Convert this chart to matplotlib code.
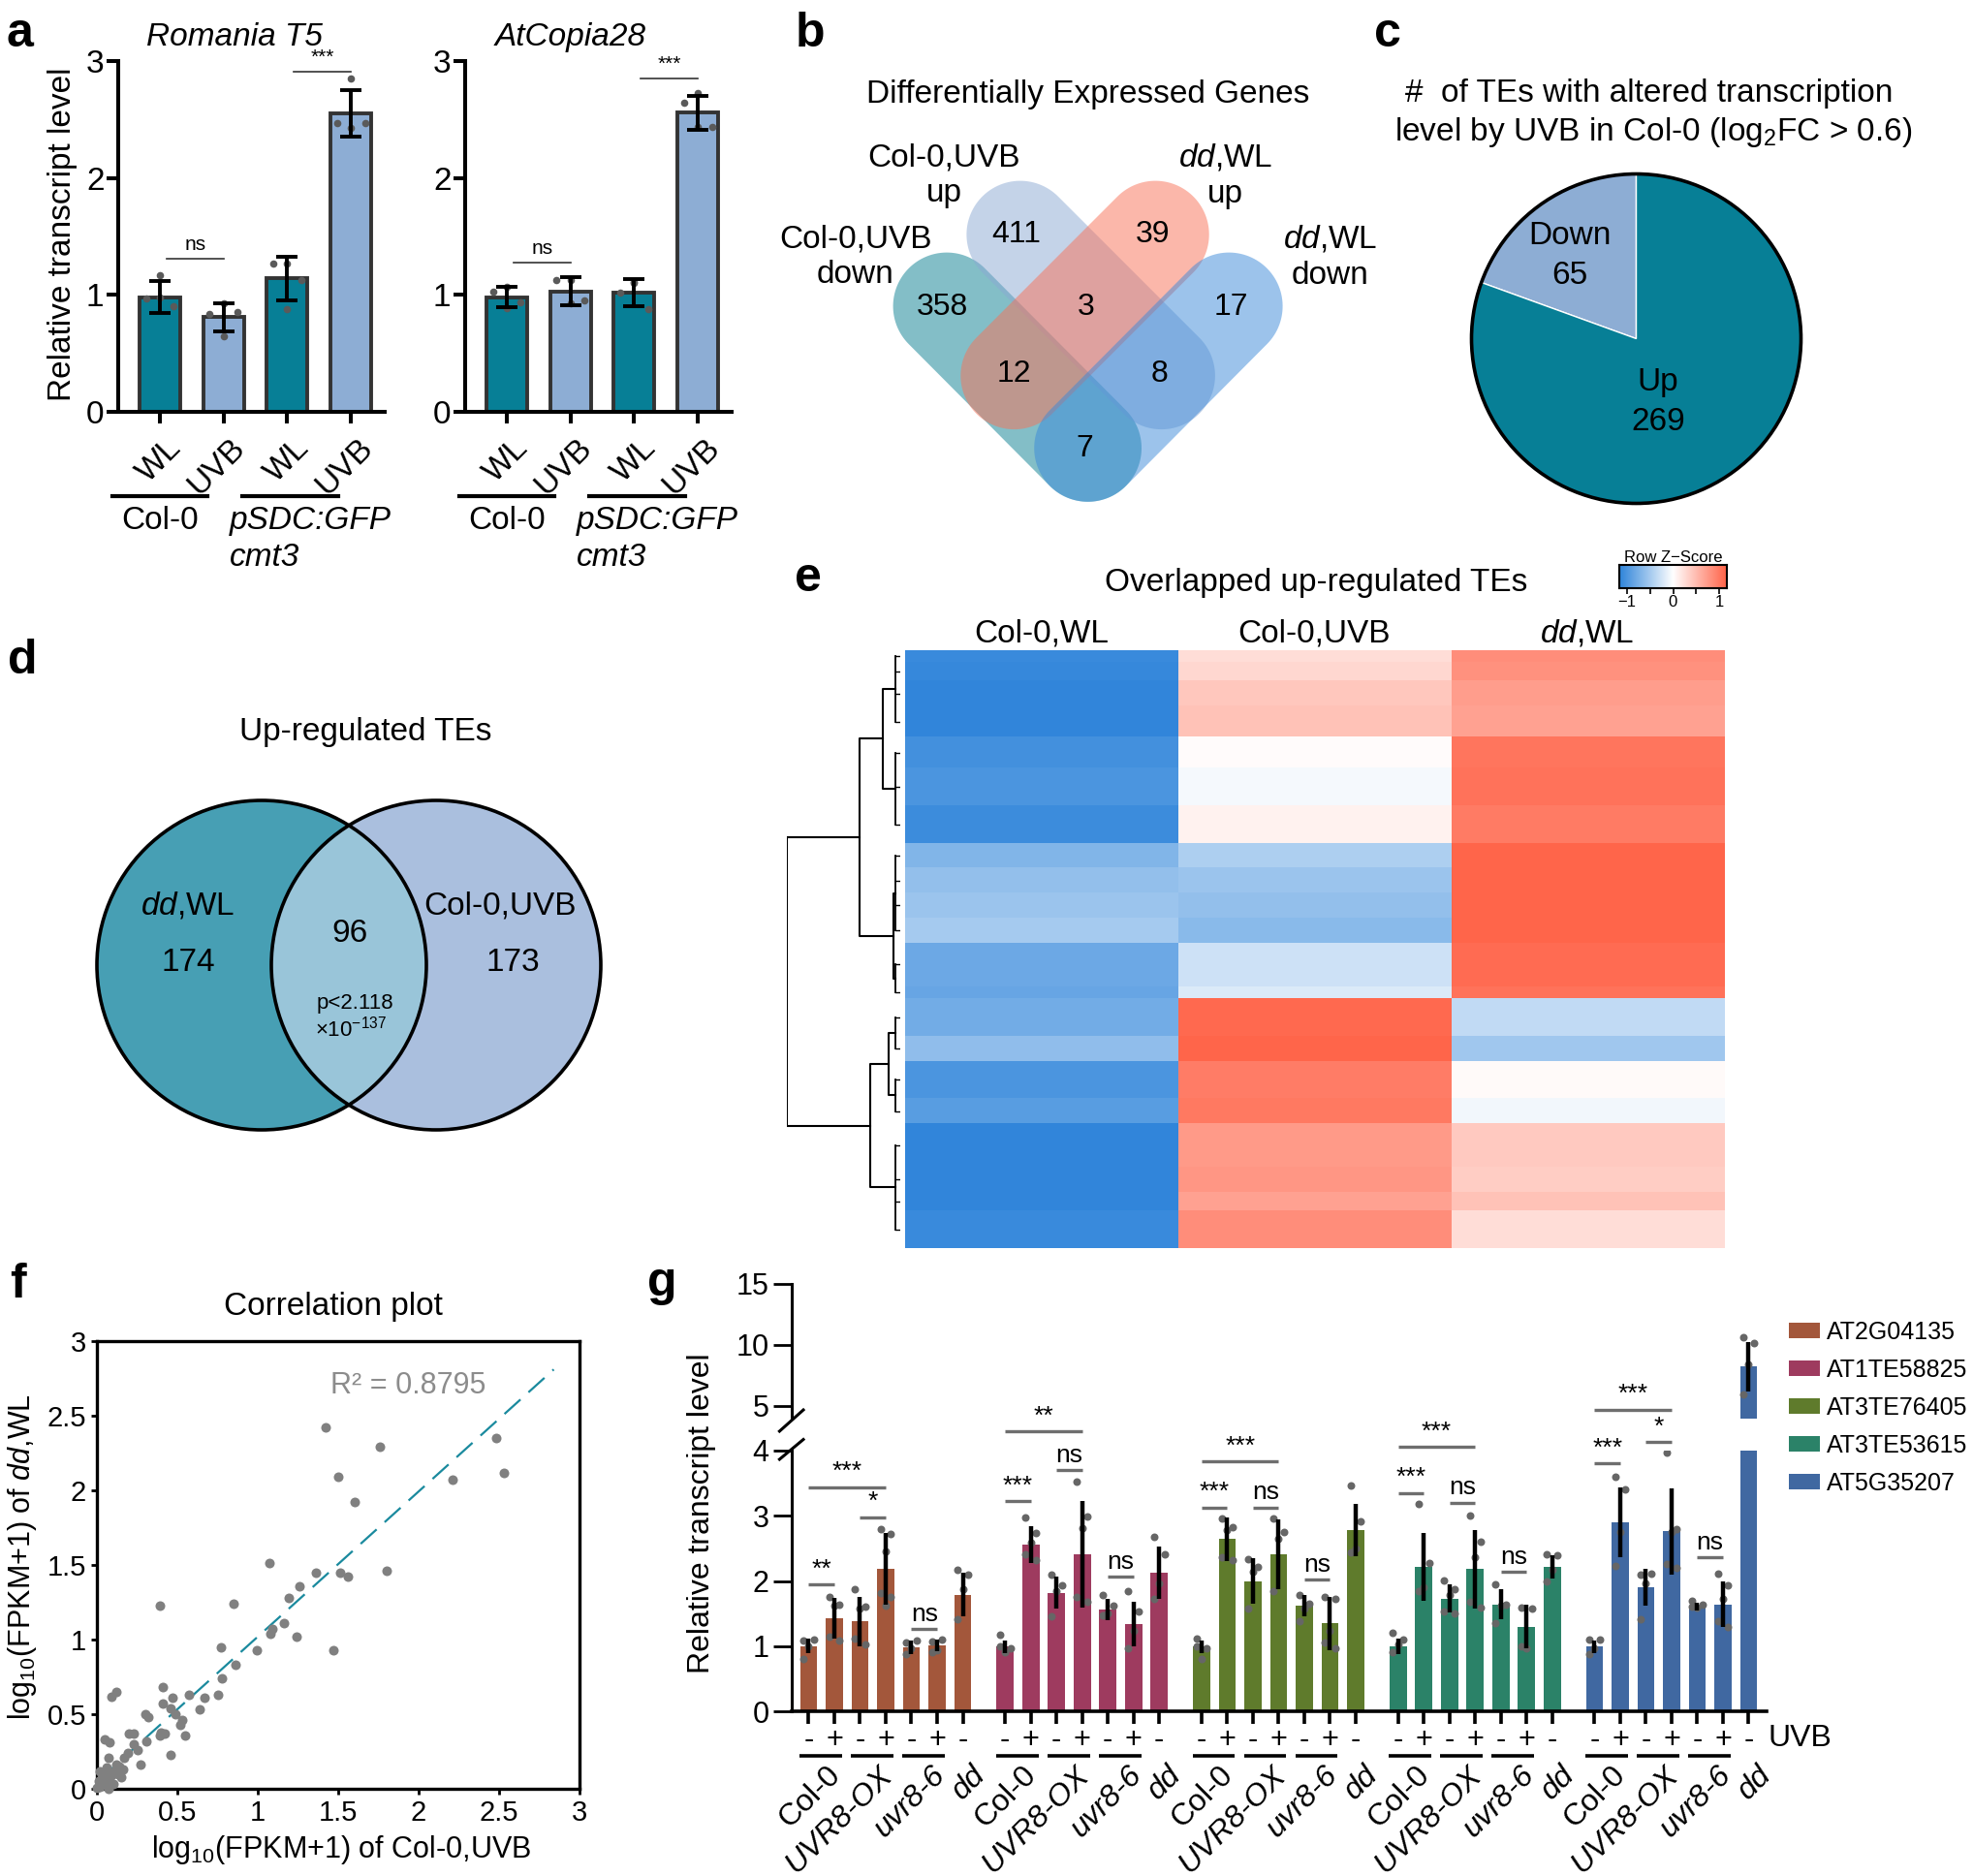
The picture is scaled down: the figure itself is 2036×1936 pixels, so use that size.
import numpy as np
import matplotlib
matplotlib.use('Agg')
import matplotlib.pyplot as plt
from matplotlib.patches import Polygon, Circle
from matplotlib.colors import LinearSegmentedColormap

plt.rcParams['font.family'] = ['Liberation Sans', 'DejaVu Sans']
plt.rcParams['mathtext.fontset'] = 'custom'
plt.rcParams['mathtext.rm'] = 'Liberation Sans'
plt.rcParams['mathtext.it'] = 'Liberation Sans:italic'
plt.rcParams['mathtext.bf'] = 'Liberation Sans:bold'

W, H = 2036, 1936

# ---------------- data ----------------
# a
a_labels = ['WL', 'UVB', 'WL', 'UVB']
rom_mean = [0.98, 0.81, 1.14, 2.55]
rom_sd = [0.135, 0.12, 0.19, 0.20]
rom_dots = [[1.17, 0.97, 0.90, 0.98], [0.93, 0.84, 0.85, 0.65],
            [1.27, 1.27, 1.13, 0.88], [2.85, 2.47, 2.47, 2.43]]
rom_sig = [(0, 1, 1.31, 'ns'), (2, 3, 2.91, '***')]
cop_mean = [0.98, 1.03, 1.02, 2.56]
cop_sd = [0.085, 0.12, 0.115, 0.145]
cop_dots = [[1.07, 1.03, 0.94, 0.89], [1.13, 1.13, 0.95, 0.93],
            [1.11, 1.02, 0.88, 1.10], [2.73, 2.64, 2.44, 2.44]]
cop_sig = [(0, 1, 1.28, 'ns'), (2, 3, 2.85, '***')]

# b  (4-set venn)
venn4_sets = ['Col-0,UVB\ndown', 'Col-0,UVB\nup', '$\\mathit{dd}$,WL\nup', '$\\mathit{dd}$,WL\ndown']
venn4_counts = [358, 411, 3, 39, 17, 12, 8, 7]

# c
pie_labels = ['Down', 'Up']
pie_counts = [65, 269]

# d
venn2_counts = [174, 96, 173]

# e  heatmap row z-scores (row blocks, top to bottom)
hm_cols = ['Col-0,WL', 'Col-0,UVB', '$\\mathit{dd}$,WL']
hm_block_rows = [2, 3, 4, 5, 5, 6, 6, 4, 4, 4, 4, 7, 2, 6, 4, 6, 4, 7, 4, 3, 6]
hm_col0_wl = [-1.10, -1.12, -1.15, -1.15, -1.05, -1.00, -1.08, -0.70, -0.60, -0.55, -0.50,
              -0.82, -0.85, -0.78, -0.62, -1.00, -0.93, -1.15, -1.15, -1.15, -1.10]
hm_col0_uvb = [0.25, 0.30, 0.42, 0.45, 0.02, -0.05, 0.10, -0.45, -0.55, -0.60, -0.65,
               -0.28, -0.20, 1.12, 1.15, 0.97, 1.00, 0.75, 0.78, 0.70, 0.85]
hm_dd_wl = [0.85, 0.82, 0.73, 0.70, 1.03, 1.05, 0.98, 1.15, 1.15, 1.15, 1.15,
            1.10, 1.05, -0.34, -0.53, 0.03, -0.07, 0.40, 0.37, 0.45, 0.25]
dendro_blocks = [14, 17, 16, 9, 10, 10, 20]
dendro_links = [(0, 1, 0.15), (2, 3, 0.06), (7, 8, 0.358), (4, 5, 0.103), (10, 6, 0.269), (9, 11, 1.0)]

# f
f_x = [1.42, 1.76, 2.48, 1.50, 2.21, 2.53, 1.60, 1.07, 1.36, 1.51, 1.56, 1.80, 1.26, 1.19, 0.39,
       0.85, 1.16, 1.09, 1.08, 1.24, 0.77, 0.995, 1.47, 0.86, 0.78, 0.75, 0.67, 0.57, 0.64, 0.41,
       0.47, 0.41, 0.46, 0.09, 0.12, 0.49, 0.53, 0.52, 0.30, 0.32, 0.55, 0.40, 0.42, 0.39, 0.46,
       0.20, 0.23, 0.23, 0.25, 0.31, 0.27, 0.195, 0.17, 0.05, 0.08, 0.07, 0.14, 0.15, 0.12, 0.02,
       0.05, 0.09, 0.01, 0.04, 0.0, 0.06, 0.10, 0.02, 0.07, 0.11, 0.03, 0.08, 0.13, 0.16, 0.06]
f_y = [2.42, 2.29, 2.35, 2.09, 2.07, 2.12, 1.92, 1.51, 1.45, 1.45, 1.42, 1.46, 1.36, 1.28, 1.23,
       1.24, 1.11, 1.07, 1.04, 1.02, 0.95, 0.93, 0.93, 0.83, 0.74, 0.63, 0.61, 0.63, 0.53, 0.68,
       0.61, 0.57, 0.54, 0.62, 0.65, 0.50, 0.46, 0.43, 0.50, 0.48, 0.36, 0.375, 0.37, 0.36, 0.23,
       0.37, 0.37, 0.30, 0.26, 0.32, 0.16, 0.24, 0.21, 0.33, 0.31, 0.21, 0.15, 0.08, 0.16, 0.12,
       0.11, 0.09, 0.05, 0.03, 0.005, 0.05, 0.03, 0.01, 0.0, 0.12, 0.07, 0.04, 0.10, 0.13, 0.14]
fit_x = [0.0, 2.84]
fit_y = [0.046, 2.81]
r2_text = 'R² = 0.8795'

# g
g_genes = ['AT2G04135', 'AT1TE58825', 'AT3TE76405', 'AT3TE53615', 'AT5G35207']
g_colors = ['#A3573B', '#9E3B5F', '#5F7B2C', '#2B8268', '#4068A1']
g_uvb = ['-', '+', '-', '+', '-', '+', '-']
g_lines = ['Col-0', 'UVR8-OX', 'uvr8-6', 'dd']
g_mean = [[1.0, 1.43, 1.38, 2.19, 0.98, 1.01, 1.79],
          [0.99, 2.56, 1.82, 2.41, 1.56, 1.34, 2.13],
          [0.99, 2.64, 2.00, 2.41, 1.62, 1.35, 2.78],
          [0.99, 2.21, 1.73, 2.18, 1.64, 1.30, 2.21],
          [0.99, 2.90, 1.90, 2.76, 1.61, 1.64, 8.20]]
g_sd = [[0.11, 0.31, 0.38, 0.55, 0.10, 0.09, 0.33],
        [0.10, 0.28, 0.25, 0.82, 0.16, 0.34, 0.40],
        [0.10, 0.33, 0.35, 0.53, 0.16, 0.41, 0.40],
        [0.12, 0.52, 0.22, 0.60, 0.23, 0.33, 0.18],
        [0.10, 0.53, 0.28, 0.66, 0.06, 0.35, 2.00]]
g_dots = [
    [[1.08, 1.10, 1.0, 0.81], [1.75, 1.64, 1.62, 1.14, 1.08], [1.88, 1.61, 1.58, 1.11, 1.02],
     [2.79, 2.72, 2.45, 1.82, 1.75, 1.62], [1.05, 1.08, 0.96, 0.88], [1.07, 1.10, 0.93, 0.90],
     [2.17, 2.10, 1.88, 1.41]],
    [[1.17, 0.96, 0.90, 0.99], [2.98, 2.73, 2.59, 2.41, 2.32], [2.09, 1.93, 1.85, 1.46],
     [3.52, 2.99, 2.81, 1.75, 1.68], [1.79, 1.62, 1.50, 1.47], [1.85, 1.53, 1.23, 0.96],
     [2.68, 2.41, 1.96, 1.73]],
    [[1.11, 0.97, 0.81, 1.0], [2.96, 2.82, 2.78, 2.37, 2.32], [2.33, 2.21, 2.14, 1.58],
     [2.96, 2.75, 2.64, 1.84], [1.79, 1.65, 1.58, 1.38], [1.76, 1.73, 1.23, 1.05, 0.96],
     [3.47, 2.92, 2.50, 2.44]],
    [[1.20, 1.10, 1.02, 0.90], [3.18, 2.27, 1.90, 1.84], [2.01, 1.87, 1.79, 1.53, 1.50],
     [3.00, 2.60, 2.37, 1.68, 1.59], [1.95, 1.64, 1.62, 1.35], [1.59, 1.57, 0.96, 1.00],
     [2.41, 2.39, 2.17, 1.99]],
    [[1.10, 1.10, 0.96, 0.88], [3.60, 3.41, 2.75, 2.23], [2.09, 2.11, 1.96, 1.42],
     [3.97, 2.80, 2.75, 2.26, 2.20], [1.70, 1.64, 1.59, 1.60], [2.11, 1.93, 1.73, 1.38, 1.29],
     [10.64, 10.16, 8.39, 5.97]]]
g_sig = [[(0, 1, 1.95, '**'), (2, 3, 2.98, '*'), (0, 3, 3.44, '***'), (4, 5, 1.26, 'ns')],
         [(0, 1, 3.23, '***'), (2, 3, 3.70, 'ns'), (0, 3, 4.30, '**'), (4, 5, 2.06, 'ns')],
         [(0, 1, 3.13, '***'), (2, 3, 3.13, 'ns'), (0, 3, 3.84, '***'), (4, 5, 2.02, 'ns')],
         [(0, 1, 3.35, '***'), (2, 3, 3.20, 'ns'), (0, 3, 4.06, '***'), (4, 5, 2.14, 'ns')],
         [(0, 1, 3.80, '***'), (2, 3, 4.13, '*'), (0, 3, 4.63, '***'), (4, 5, 2.36, 'ns')]]

teal = '#077F96'
lblue = '#8DADD4'


def box(x0, y0, x1, y1):
    return [x0 / W, 1 - y1 / H, (x1 - x0) / W, (y1 - y0) / H]


fig = plt.figure(figsize=(W / 100, H / 100), dpi=100)
ov = fig.add_axes([0, 0, 1, 1])
ov.set_xlim(0, W)
ov.set_ylim(H, 0)
ov.axis('off')

# panel letters
for lab, x, y in [('a', 7, 48), ('b', 821, 48), ('c', 1418, 48), ('d', 8, 695),
                  ('e', 820, 610), ('f', 10, 1339), ('g', 668, 1337)]:
    ov.text(x, y, lab, fontsize=36, fontweight='bold', ha='left', va='baseline')

# ---------------- a ----------------
a_jit = [0.0, -0.22, 0.22, 0.0]
a_cols = [teal, lblue, teal, lblue]
for (x0, x1, tx, title, means, sds, dots, sigs) in [
        (122, 397, 242, 'Romania T5', rom_mean, rom_sd, rom_dots, rom_sig),
        (480, 755, 589, 'AtCopia28', cop_mean, cop_sd, cop_dots, cop_sig)]:
    ax = fig.add_axes(box(x0, 63, x1, 425))
    ax.patch.set_visible(False)
    x = np.arange(len(means))
    ax.bar(x, means, 0.64, color=a_cols, edgecolor='#333333', linewidth=2.8, zorder=2)
    for i, d in enumerate(dots):
        ax.scatter(i + np.array(a_jit[:len(d)]), d, s=30, color='#5a5a5a', lw=0, zorder=3)
    ax.errorbar(x, means, yerr=sds, fmt='none', ecolor='black', elinewidth=2.8,
                capsize=8, capthick=2.8, zorder=4)
    for i, j, y, t in sigs:
        ax.plot([i + 0.1, j], [y, y], color='#333333', lw=1.2)
        ax.text((i + j) / 2 + 0.05, y + 0.04, t, ha='center', va='bottom', fontsize=15)
    ax.set_xlim(-0.655, 3.53)
    ax.set_ylim(0, 3)
    ax.set_yticks([0, 1, 2, 3])
    ax.set_xticks(x)
    ax.set_xticklabels([])
    for s in ['top', 'right']:
        ax.spines[s].set_visible(False)
    for s in ['left', 'bottom']:
        ax.spines[s].set_linewidth(2.9)
    ax.tick_params(width=2.9, length=8.5, labelsize=24, pad=2)
    tr = ax.get_xaxis_transform()
    for i, lab in enumerate(a_labels):
        ax.text(i + 0.1, -0.06, lab, transform=tr, rotation=45, ha='right', va='top',
                rotation_mode='anchor', fontsize=24)
    ax.plot([-0.75, 0.75], [-0.24, -0.24], transform=tr, color='black', lw=3, clip_on=False)
    ax.plot([1.3, 2.8], [-0.24, -0.24], transform=tr, color='black', lw=3, clip_on=False)
    ax.text(0.0, -0.31, 'Col-0', transform=tr, ha='center', va='center', fontsize=24)
    ax.text(1.1, -0.31, 'pSDC:GFP', transform=tr, ha='left', va='center', fontsize=24,
            fontstyle='italic')
    ax.text(1.1, -0.415, 'cmt3', transform=tr, ha='left', va='center', fontsize=24,
            fontstyle='italic')
    ov.text(tx, 47, title, ha='center', va='baseline', fontsize=24, fontstyle='italic')

ov.text(65, 242, 'Relative transcript level', rotation=90, ha='center', va='center', fontsize=24)

# ---------------- b ----------------


def capsule(c1, c2, r, n=60):
    c1 = np.array(c1, float)
    c2 = np.array(c2, float)
    d = c2 - c1
    ang = np.arctan2(d[1], d[0])
    t1 = np.linspace(ang + np.pi / 2, ang + 3 * np.pi / 2, n)
    t2 = np.linspace(ang - np.pi / 2, ang + np.pi / 2, n)
    p1 = c1 + r * np.c_[np.cos(t1), np.sin(t1)]
    p2 = c2 + r * np.c_[np.cos(t2), np.sin(t2)]
    return np.vstack([p1, p2])


v4_shapes = [((977, 316), (1122.6, 462.4), '#097F91'),
             ((1052.8, 242), (1198.5, 387.7), '#8BA9D3'),
             ((1192.3, 242), (1046.7, 387.7), '#F97157'),
             ((1268.2, 316), (1122.6, 462.4), '#3B89D9')]
for c1, c2, col in v4_shapes:
    ov.add_patch(Polygon(capsule(c1, c2, 55.4), closed=True, facecolor=col, alpha=0.5,
                         edgecolor='none'))
v4_count_pos = [(972.8, 317), (1048.7, 242), (1120.5, 317), (1189.4, 242), (1270, 317),
                (1046.7, 386.5), (1196.4, 386.5), (1119.7, 462.8)]
for (x, y), n in zip(v4_count_pos, venn4_counts):
    ov.text(x, y, str(n), ha='center', va='center', fontsize=23)
v4_set_pos = [(882.6, 265.5), (974, 181), (1264.5, 181), (1372.8, 265.5)]
for (x, y), s in zip(v4_set_pos, venn4_sets):
    ov.text(x, y, s, ha='center', va='center', fontsize=24, linespacing=1.25)
ov.text(1122.6, 106, 'Differentially Expressed Genes', ha='center', va='baseline', fontsize=24)

# ---------------- c ----------------
axc = fig.add_axes(box(1518.5, 179.5, 1858.5, 519.5))
axc.pie(pie_counts, colors=[lblue, teal], startangle=90, counterclock=True, radius=1,
        wedgeprops=dict(edgecolor='white', linewidth=1))
axc.add_patch(Circle((0, 0), 1, fill=False, edgecolor='black', lw=2.6, clip_on=False))
axc.set_xlim(-1, 1)
axc.set_ylim(-1, 1)
axc.text(-0.403, 0.503, '%s\n%d' % (pie_labels[0], pie_counts[0]), ha='center', va='center',
         fontsize=24, linespacing=1.38)
axc.text(0.132, -0.385, '%s\n%d' % (pie_labels[1], pie_counts[1]), ha='center', va='center',
         fontsize=24, linespacing=1.38)
ov.text(1702, 105, '#  of TEs with altered transcription', ha='center', va='baseline', fontsize=24)
ov.text(1706, 145.5, 'level by UVB in Col-0 (log$_2$FC > 0.6)', ha='center', va='baseline',
        fontsize=24)

# ---------------- d ----------------
cl = Circle((270, 996), 170, facecolor='#479FB4', edgecolor='none')
cr = Circle((450, 996), 170, facecolor='#AABFDE', edgecolor='none')
ov.add_patch(cl)
ov.add_patch(cr)
lens = Circle((450, 996), 170, facecolor='#99C5D9', edgecolor='none')
ov.add_patch(lens)
lens.set_clip_path(cl)
ov.add_patch(Circle((270, 996), 170, fill=False, edgecolor='black', lw=2.6))
ov.add_patch(Circle((450, 996), 170, fill=False, edgecolor='black', lw=2.6))
ov.text(377, 764, 'Up-regulated TEs', ha='center', va='baseline', fontsize=24)
ov.text(194, 935, '$\\mathit{dd}$,WL', ha='center', va='center', fontsize=24)
ov.text(194, 993, str(venn2_counts[0]), ha='center', va='center', fontsize=24)
ov.text(361, 964, str(venn2_counts[1]), ha='center', va='center', fontsize=24)
ov.text(516, 935, 'Col-0,UVB', ha='center', va='center', fontsize=24)
ov.text(529, 993, str(venn2_counts[2]), ha='center', va='center', fontsize=24)
ov.text(366, 1035, 'p<2.118', ha='center', va='center', fontsize=16)
ov.text(362, 1062, '×10$^{-137}$', ha='center', va='center', fontsize=16)

# ---------------- e ----------------
rows = np.repeat(np.arange(len(hm_block_rows)), hm_block_rows)
Z = np.c_[np.array(hm_col0_wl)[rows], np.array(hm_col0_uvb)[rows], np.array(hm_dd_wl)[rows]]
cmap = LinearSegmentedColormap.from_list('bwr2', ['#2E84DA', '#FFFFFF', '#FF6348'])
axe = fig.add_axes(box(933.7, 670.8, 1779, 1288))
axe.imshow(Z, aspect='auto', cmap=cmap, vmin=-1.17, vmax=1.17, interpolation='nearest',
           extent=(0, 3, len(rows), 0))
axe.axis('off')
for i, lab in enumerate(hm_cols):
    axe.text(i + 0.5, 1.013, lab, transform=axe.get_xaxis_transform(), ha='center',
             va='baseline', fontsize=24)
ov.text(1358, 610, 'Overlapped up-regulated TEs', ha='center', va='baseline', fontsize=24)

# dendrogram
axd = fig.add_axes(box(812, 670.8, 929, 1288))
axd.set_xlim(1.0, 0)
axd.set_ylim(len(rows), 0)
axd.axis('off')
starts = np.cumsum([0] + dendro_blocks[:-1])
pos = {}
hgt = {}
sub_edges = np.cumsum([0] + hm_block_rows)
for b, (s, n) in enumerate(zip(starts, dendro_blocks)):
    hb = 0.04
    subs = [(sub_edges[k] + sub_edges[k + 1]) / 2 for k in range(len(hm_block_rows))
            if sub_edges[k] >= s and sub_edges[k + 1] <= s + n]
    axd.plot([hb, hb], [subs[0], subs[-1]], color='black', lw=1.3)
    for yy in subs:
        axd.plot([0, hb], [yy, yy], color='black', lw=1.0)
    pos[b] = np.mean([subs[0], subs[-1]])
    hgt[b] = hb
node = len(dendro_blocks)
for a, b, h in dendro_links:
    axd.plot([hgt[a], h, h, hgt[b]], [pos[a], pos[a], pos[b], pos[b]], color='black', lw=1.5)
    pos[node] = (pos[a] + pos[b]) / 2
    hgt[node] = h
    node += 1

# colour key
axk = fig.add_axes(box(1671, 583, 1782, 607))
axk.imshow(np.linspace(-1.17, 1.17, 256)[None, :], aspect='auto', cmap=cmap, vmin=-1.17,
           vmax=1.17, extent=(-1.17, 1.17, 0, 1))
axk.set_yticks([])
axk.set_xticks([-1, -0.5, 0, 0.5, 1])
axk.set_xticklabels(['\u22121', '', '0', '', '1'])
axk.tick_params(axis='x', length=4, width=1.2, labelsize=12, pad=1)
for s in axk.spines.values():
    s.set_linewidth(1.5)
axk.set_title('Row Z\u2212Score', fontsize=12, pad=2)

# ---------------- f ----------------
axf = fig.add_axes(box(100, 1384, 598, 1846))
axf.scatter(f_x, f_y, s=52, color='#808080', lw=0, zorder=3, clip_on=False)
axf.plot(fit_x, fit_y, color='#1A8A9E', lw=1.6, dashes=(10, 5), zorder=2)
axf.text(1.45, 2.7, r2_text, color='#8c8c8c', fontsize=22, ha='left', va='center')
axf.set_xlim(0, 3)
axf.set_ylim(0, 3)
ticks = [0, 0.5, 1, 1.5, 2, 2.5, 3]
tlabs = ['0', '0.5', '1', '1.5', '2', '2.5', '3']
axf.set_xticks(ticks)
axf.set_xticklabels(tlabs)
axf.set_yticks(ticks)
axf.set_yticklabels(tlabs)
for s in axf.spines.values():
    s.set_linewidth(2.4)
axf.tick_params(width=2.0, length=4, labelsize=21, pad=4)
ov.text(344, 1357, 'Correlation plot', ha='center', va='baseline', fontsize=24)
ov.text(352, 1909, 'log$_{10}$(FPKM+1) of Col-0,UVB', ha='center', va='center', fontsize=22)
ov.text(23, 1607, 'log$_{10}$(FPKM+1) of $\\mathit{dd}$,WL', ha='center', va='center',
        fontsize=22, rotation=90)

# ---------------- g ----------------
g_gap = 7.65
axt = fig.add_axes(box(817, 1324.5, 1823, 1464.3))
axb = fig.add_axes(box(817, 1497, 1823, 1766))
axt.patch.set_visible(False)
axb.patch.set_visible(False)
jit = [-0.2, 0.2, 0.0, -0.2, 0.2, 0.0]
allx = []
for k, gene in enumerate(g_genes):
    xs = k * g_gap + np.arange(len(g_uvb))
    allx.extend(xs)
    for ax in (axb, axt):
        ax.bar(xs, g_mean[k], 0.67, color=g_colors[k], label=gene if ax is axb else None, zorder=2)
        ax.errorbar(xs, g_mean[k], yerr=g_sd[k], fmt='none', ecolor='black', elinewidth=3.2,
                    capsize=0, zorder=4)
    for i, d in enumerate(g_dots[k]):
        d = np.array(d)
        xd = xs[i] + np.array(jit[:len(d)])
        axb.scatter(xd, d, s=33, color='#666666', lw=0, zorder=3)
        hi = d > 4.5
        axt.scatter(xd[hi], d[hi], s=33, color='#666666', lw=0, zorder=3)
    for i, j, y, t in g_sig[k]:
        axb.plot([xs[i], xs[j]], [y, y], color='#6e6e6e', lw=2.4, clip_on=False,
                 solid_capstyle='butt')
        axb.text((xs[i] + xs[j]) / 2, y + 0.05, t, ha='center', va='bottom', fontsize=19,
                 clip_on=False)
    tr = axb.get_xaxis_transform()
    base = k * g_gap
    for st in [0, 2, 4]:
        axb.plot([base + st - 0.35, base + st + 1.3], [-0.17, -0.17], transform=tr,
                 color='black', lw=2.6, clip_on=False, solid_capstyle='butt')
    for off, lab, sty in zip([0.65, 2.7, 4.75, 6.3], g_lines,
                             ['normal', 'italic', 'italic', 'italic']):
        axb.text(base + off, -0.19, lab, transform=tr, rotation=45, ha='right', va='top',
                 rotation_mode='anchor', fontsize=23, fontstyle=sty)

for ax in (axt, axb):
    ax.set_xlim(-0.66, 37.3)
    for s in ['top', 'right']:
        ax.spines[s].set_visible(False)
    ax.spines['left'].set_linewidth(2.2)
    ax.tick_params(axis='y', length=14, width=2.0, labelsize=22, pad=3)
axt.set_ylim(3.93, 15)
axt.set_yticks([5, 10, 15])
axt.spines['bottom'].set_visible(False)
axt.set_xticks([])
axb.set_ylim(0, 4.0)
axb.set_yticks([0, 1, 2, 3, 4])
axb.spines['bottom'].set_linewidth(2.6)
axb.set_xticks(allx)
axb.set_xticklabels(g_uvb * len(g_genes))
axb.tick_params(axis='x', length=9, width=2.6, labelsize=22, pad=2)
ov.plot([804.4, 829], [1477, 1455], color='black', lw=2.2)
ov.plot([804.4, 829], [1506, 1485.5], color='black', lw=2.2)
ov.text(1857.6, 1794, 'UVB', ha='center', va='center', fontsize=23)
ov.text(724, 1562, 'Relative transcript level', rotation=90, ha='center', va='center',
        fontsize=23)
axb.legend(loc='upper left', bbox_to_anchor=(1845.6 / W, 1 - 1363 / H),
           bbox_transform=fig.transFigure, frameon=False, fontsize=18, borderpad=0,
           borderaxespad=0, handlelength=1.28, handleheight=0.64, handletextpad=0.3,
           labelspacing=0.6)

fig.savefig('out.png', dpi=100)
